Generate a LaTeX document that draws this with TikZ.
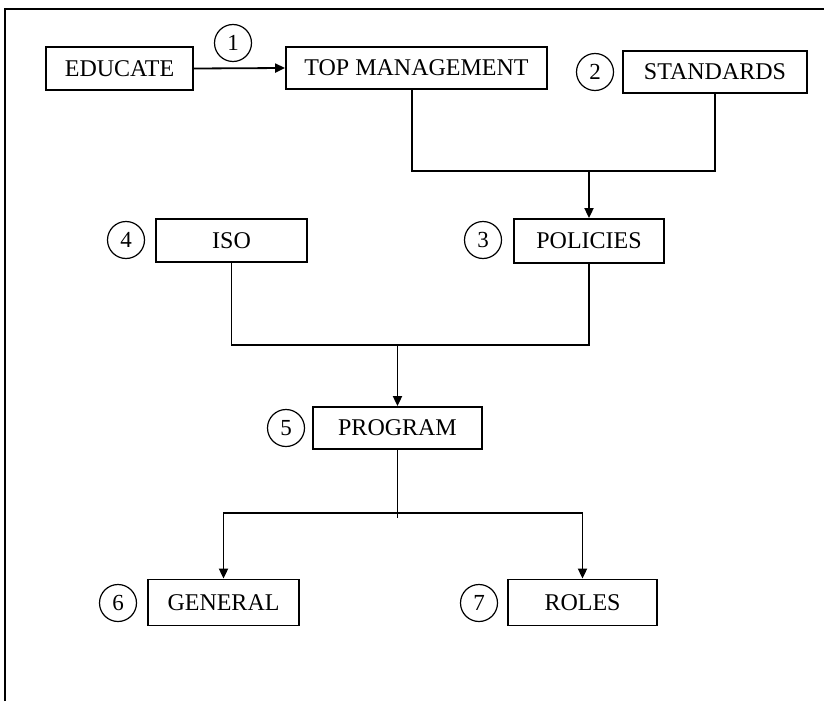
\documentclass[tikz,border=0pt]{standalone}
\usepackage{fontspec}
\setmainfont{Liberation Serif}
\usetikzlibrary{arrows.meta}
\begin{document}
\begin{tikzpicture}[x=1pt,y=-1pt,
  box/.style={draw,line width=1.8pt,rectangle,inner sep=0pt,font=\fontsize{24}{27}\selectfont},
  num/.style={draw,circle,line width=1.2pt,minimum size=37pt,inner sep=0pt,font=\fontsize{23}{25}\selectfont},
  link/.style={line width=1.8pt},
  arr/.style={link,-{Triangle[length=10pt,width=9pt]}},
  frameline/.style={line width=2pt}]
\useasboundingbox (0,0) rectangle (824,701);
\draw[frameline] (5,701) -- (5,9) -- (824,9);
% boxes
\node[box,minimum width=147pt,minimum height=43pt] (educate) at (119.5,68.5) {EDUCATE};
\node[box,minimum width=261pt,minimum height=42pt] (topm) at (416.5,68) {TOP MANAGEMENT};
\node[box,minimum width=184pt,minimum height=42pt] (std) at (715,72) {STANDARDS};
\node[box,minimum width=151pt,minimum height=43pt] (iso) at (231.5,240.5) {ISO};
\node[box,minimum width=150pt,minimum height=44pt] (pol) at (589,241) {POLICIES};
\node[box,minimum width=169pt,minimum height=42pt] (prog) at (397.5,428) {PROGRAM};
\node[box,minimum width=151pt,minimum height=46pt] (gen) at (223.5,602.5) {GENERAL};
\node[box,minimum width=149pt,minimum height=46pt] (roles) at (582.5,602.5) {ROLES};
% numbers
\node[num] (c1) at (233,43) {1};
\node[num] (c2) at (595,72) {2};
\node[num] (c3) at (483,240) {3};
\node[num] (c4) at (126,240) {4};
\node[num] (c5) at (286,428) {5};
\node[num] (c6) at (118,603) {6};
\node[num] (c7) at (479,603) {7};
% connectors
\draw[arr] (educate.east) -- (topm.west);
\coordinate (j1) at (412,171);
\draw[link] (topm.south -| j1) -- (j1) -| (std.south);
\draw[arr] (pol.north |- j1) -- (pol.north);
\coordinate (j2) at (401,345);
\draw[link] (iso.south) |- (j2) -| (pol.south);
\draw[arr] (prog.north |- j2) -- (prog.north);
\coordinate (j3) at (399,513);
\draw[link] (prog.south) -- (prog.south |- j3) -- ++(0,5);
\draw[arr] (prog.south |- j3) -| (gen.north);
\draw[arr] (prog.south |- j3) -| (roles.north);
\end{tikzpicture}
\end{document}
